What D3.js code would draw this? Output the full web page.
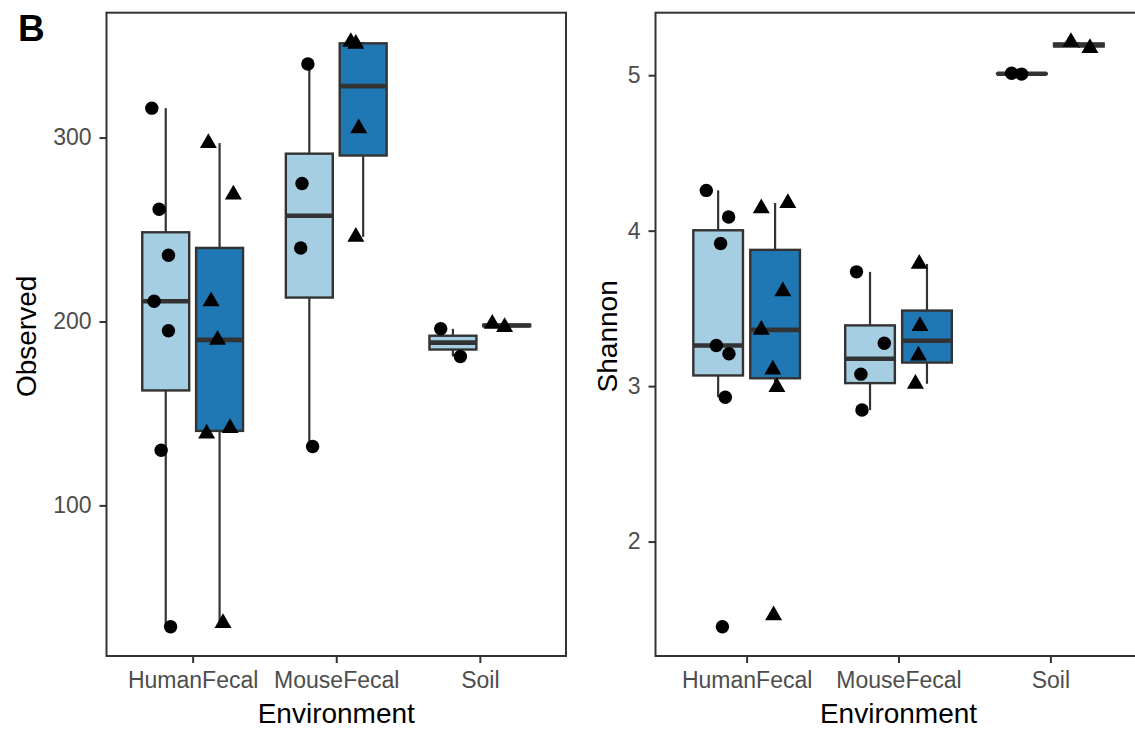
<!DOCTYPE html>
<html>
<head>
<meta charset="utf-8">
<script src="https://cdn.jsdelivr.net/npm/d3@7"></script>
<style>
body { margin: 0; background: #fff; }
text { font-family: "Liberation Sans", Arial, sans-serif; }
</style>
</head>
<body>
<svg id="chart" width="1135" height="729"></svg>
<script>
// categories on the x axis
const environments = ["HumanFecal", "MouseFecal", "Soil"];

// Observed richness, one list per environment (circle group / triangle group)
const observedG1 = [[316, 261, 236, 211, 195, 130, 34], [340, 275, 240, 132], [196, 181]];
const observedG2 = [[297, 269, 211, 190, 142, 139, 36], [352, 351, 305, 246], [198.7, 197]];

// Shannon diversity
const shannonG1 = [[4.259, 4.088, 3.917, 3.261, 3.208, 2.929, 1.452], [3.735, 3.276, 3.077, 2.846], [5.012, 5.007]];
const shannonG2 = [[4.143, 4.178, 3.610, 3.362, 3.107, 2.994, 1.525], [3.786, 3.386, 3.197, 3.015], [5.214, 5.175]];

// horizontal jitter of each point (in category units)
const observedJitterG1 = [[-0.097, -0.046, 0.019, -0.081, 0.019, -0.032, 0.034], [-0.010, -0.051, -0.060, 0.023], [-0.085, 0.052]];
const observedJitterG2 = [[-0.078, 0.096, -0.059, -0.014, 0.073, -0.090, 0.024], [-0.086, -0.051, -0.031, -0.051], [-0.101, -0.015]];
const shannonJitterG1 = [[-0.078, 0.069, 0.016, -0.012, 0.071, 0.047, 0.028], [-0.089, 0.094, -0.060, -0.053], [-0.068, -0.002]];
const shannonJitterG2 = [[-0.091, 0.084, 0.051, -0.091, -0.015, 0.012, -0.010], [-0.051, -0.046, -0.056, -0.076], [-0.052, 0.073]];

// tick labels
const observedTicks = [100, 200, 300];
const shannonTicks = [2, 3, 4, 5];

const svg = d3.select("#chart");
const lineColor = "#333333";
const panelTop = 12.7;
const panelBottom = 656;

function boxStats(values) {
    const v = values.slice().sort(d3.ascending);
    const q1 = d3.quantile(v, 0.25);
    const med = d3.quantile(v, 0.5);
    const q3 = d3.quantile(v, 0.75);
    const iqr = q3 - q1;
    const lo = d3.min(v.filter(d => d >= q1 - 1.5 * iqr));
    const hi = d3.max(v.filter(d => d <= q3 + 1.5 * iqr));
    return { q1, med, q3, lo, hi };
}

function drawPanel(cfg) {
    const g = svg.append("g");

    const x = d3.scalePoint()
        .domain(environments)
        .range([cfg.left, cfg.right])
        .padding(0.6);
    const step = x.step();

    const all = cfg.series.flatMap(s => s.values.flat());
    const [mn, mx] = d3.extent(all);
    const pad = (mx - mn) * 0.05;
    const y = d3.scaleLinear()
        .domain([mn - pad, mx + pad])
        .range([panelBottom, panelTop]);

    // boxes
    cfg.series.forEach(s => {
        environments.forEach((env, i) => {
            const st = boxStats(s.values[i]);
            const cx = x(env) + s.offset * step;
            const bw = 0.327 * step;

            g.append("line")
                .attr("x1", cx).attr("x2", cx)
                .attr("y1", y(st.hi)).attr("y2", y(st.q3))
                .attr("stroke", lineColor).attr("stroke-width", 2.2);
            g.append("line")
                .attr("x1", cx).attr("x2", cx)
                .attr("y1", y(st.q1)).attr("y2", y(st.lo))
                .attr("stroke", lineColor).attr("stroke-width", 2.2);

            g.append("rect")
                .attr("x", cx - bw / 2)
                .attr("y", y(st.q3))
                .attr("width", bw)
                .attr("height", Math.max(0, y(st.q1) - y(st.q3)))
                .attr("fill", s.fill)
                .attr("stroke", lineColor)
                .attr("stroke-width", 2.4);

            g.append("line")
                .attr("x1", cx - bw / 2).attr("x2", cx + bw / 2)
                .attr("y1", y(st.med)).attr("y2", y(st.med))
                .attr("stroke", lineColor).attr("stroke-width", 4.6);
        });
    });

    // jittered points
    cfg.series.forEach(s => {
        const sym = d3.symbol().type(s.shape).size(s.size);
        environments.forEach((env, i) => {
            s.values[i].forEach((v, j) => {
                const px = x(env) + (s.offset + s.jitter[i][j]) * step;
                g.append("path")
                    .attr("d", sym)
                    .attr("transform", `translate(${px},${y(v)})`)
                    .attr("fill", "#000");
            });
        });
    });

    // panel border
    g.append("rect")
        .attr("x", cfg.left).attr("y", panelTop)
        .attr("width", cfg.right - cfg.left)
        .attr("height", panelBottom - panelTop)
        .attr("fill", "none")
        .attr("stroke", lineColor)
        .attr("stroke-width", 2);

    // axes
    const yAxis = g.append("g")
        .attr("transform", `translate(${cfg.left},0)`)
        .call(d3.axisLeft(y).tickValues(cfg.ticks).tickFormat(d3.format("d")).tickSize(7).tickPadding(8));
    const xAxis = g.append("g")
        .attr("transform", `translate(0,${panelBottom})`)
        .call(d3.axisBottom(x).tickSize(7).tickPadding(9));

    [yAxis, xAxis].forEach(ax => {
        ax.select(".domain").remove();
        ax.selectAll(".tick line").attr("stroke", lineColor).attr("stroke-width", 2);
        ax.selectAll(".tick text")
            .attr("fill", "#4D4D4D")
            .style("font-size", "23px")
            .style("font-family", "'Liberation Sans', Arial, sans-serif");
    });

    // axis titles
    g.append("text")
        .attr("x", (cfg.left + cfg.right) / 2)
        .attr("y", 722.5)
        .attr("text-anchor", "middle")
        .attr("font-size", 28)
        .attr("fill", "#000")
        .text("Environment");

    g.append("text")
        .attr("transform", `translate(${cfg.titleX},${(panelTop + panelBottom) / 2 + 2}) rotate(-90)`)
        .attr("text-anchor", "middle")
        .attr("font-size", 28)
        .attr("fill", "#000")
        .text(cfg.title);
}

const lightBlue = "#A6CEE3";
const darkBlue = "#1F78B4";

drawPanel({
    left: 106.5, right: 566,
    title: "Observed", titleX: 36,
    ticks: observedTicks,
    series: [
        { values: observedG1, jitter: observedJitterG1, offset: -0.1875, fill: lightBlue, shape: d3.symbolCircle, size: 142 },
        { values: observedG2, jitter: observedJitterG2, offset: 0.1875, fill: darkBlue, shape: d3.symbolTriangle, size: 125 }
    ]
});

drawPanel({
    left: 655.5, right: 1141.5,
    title: "Shannon", titleX: 617,
    ticks: shannonTicks,
    series: [
        { values: shannonG1, jitter: shannonJitterG1, offset: -0.1875, fill: lightBlue, shape: d3.symbolCircle, size: 142 },
        { values: shannonG2, jitter: shannonJitterG2, offset: 0.1875, fill: darkBlue, shape: d3.symbolTriangle, size: 125 }
    ]
});

// panel tag
svg.append("text")
    .attr("x", 18)
    .attr("y", 40.5)
    .attr("font-size", 37)
    .attr("font-weight", "bold")
    .attr("fill", "#000")
    .text("B");
</script>
</body>
</html>
